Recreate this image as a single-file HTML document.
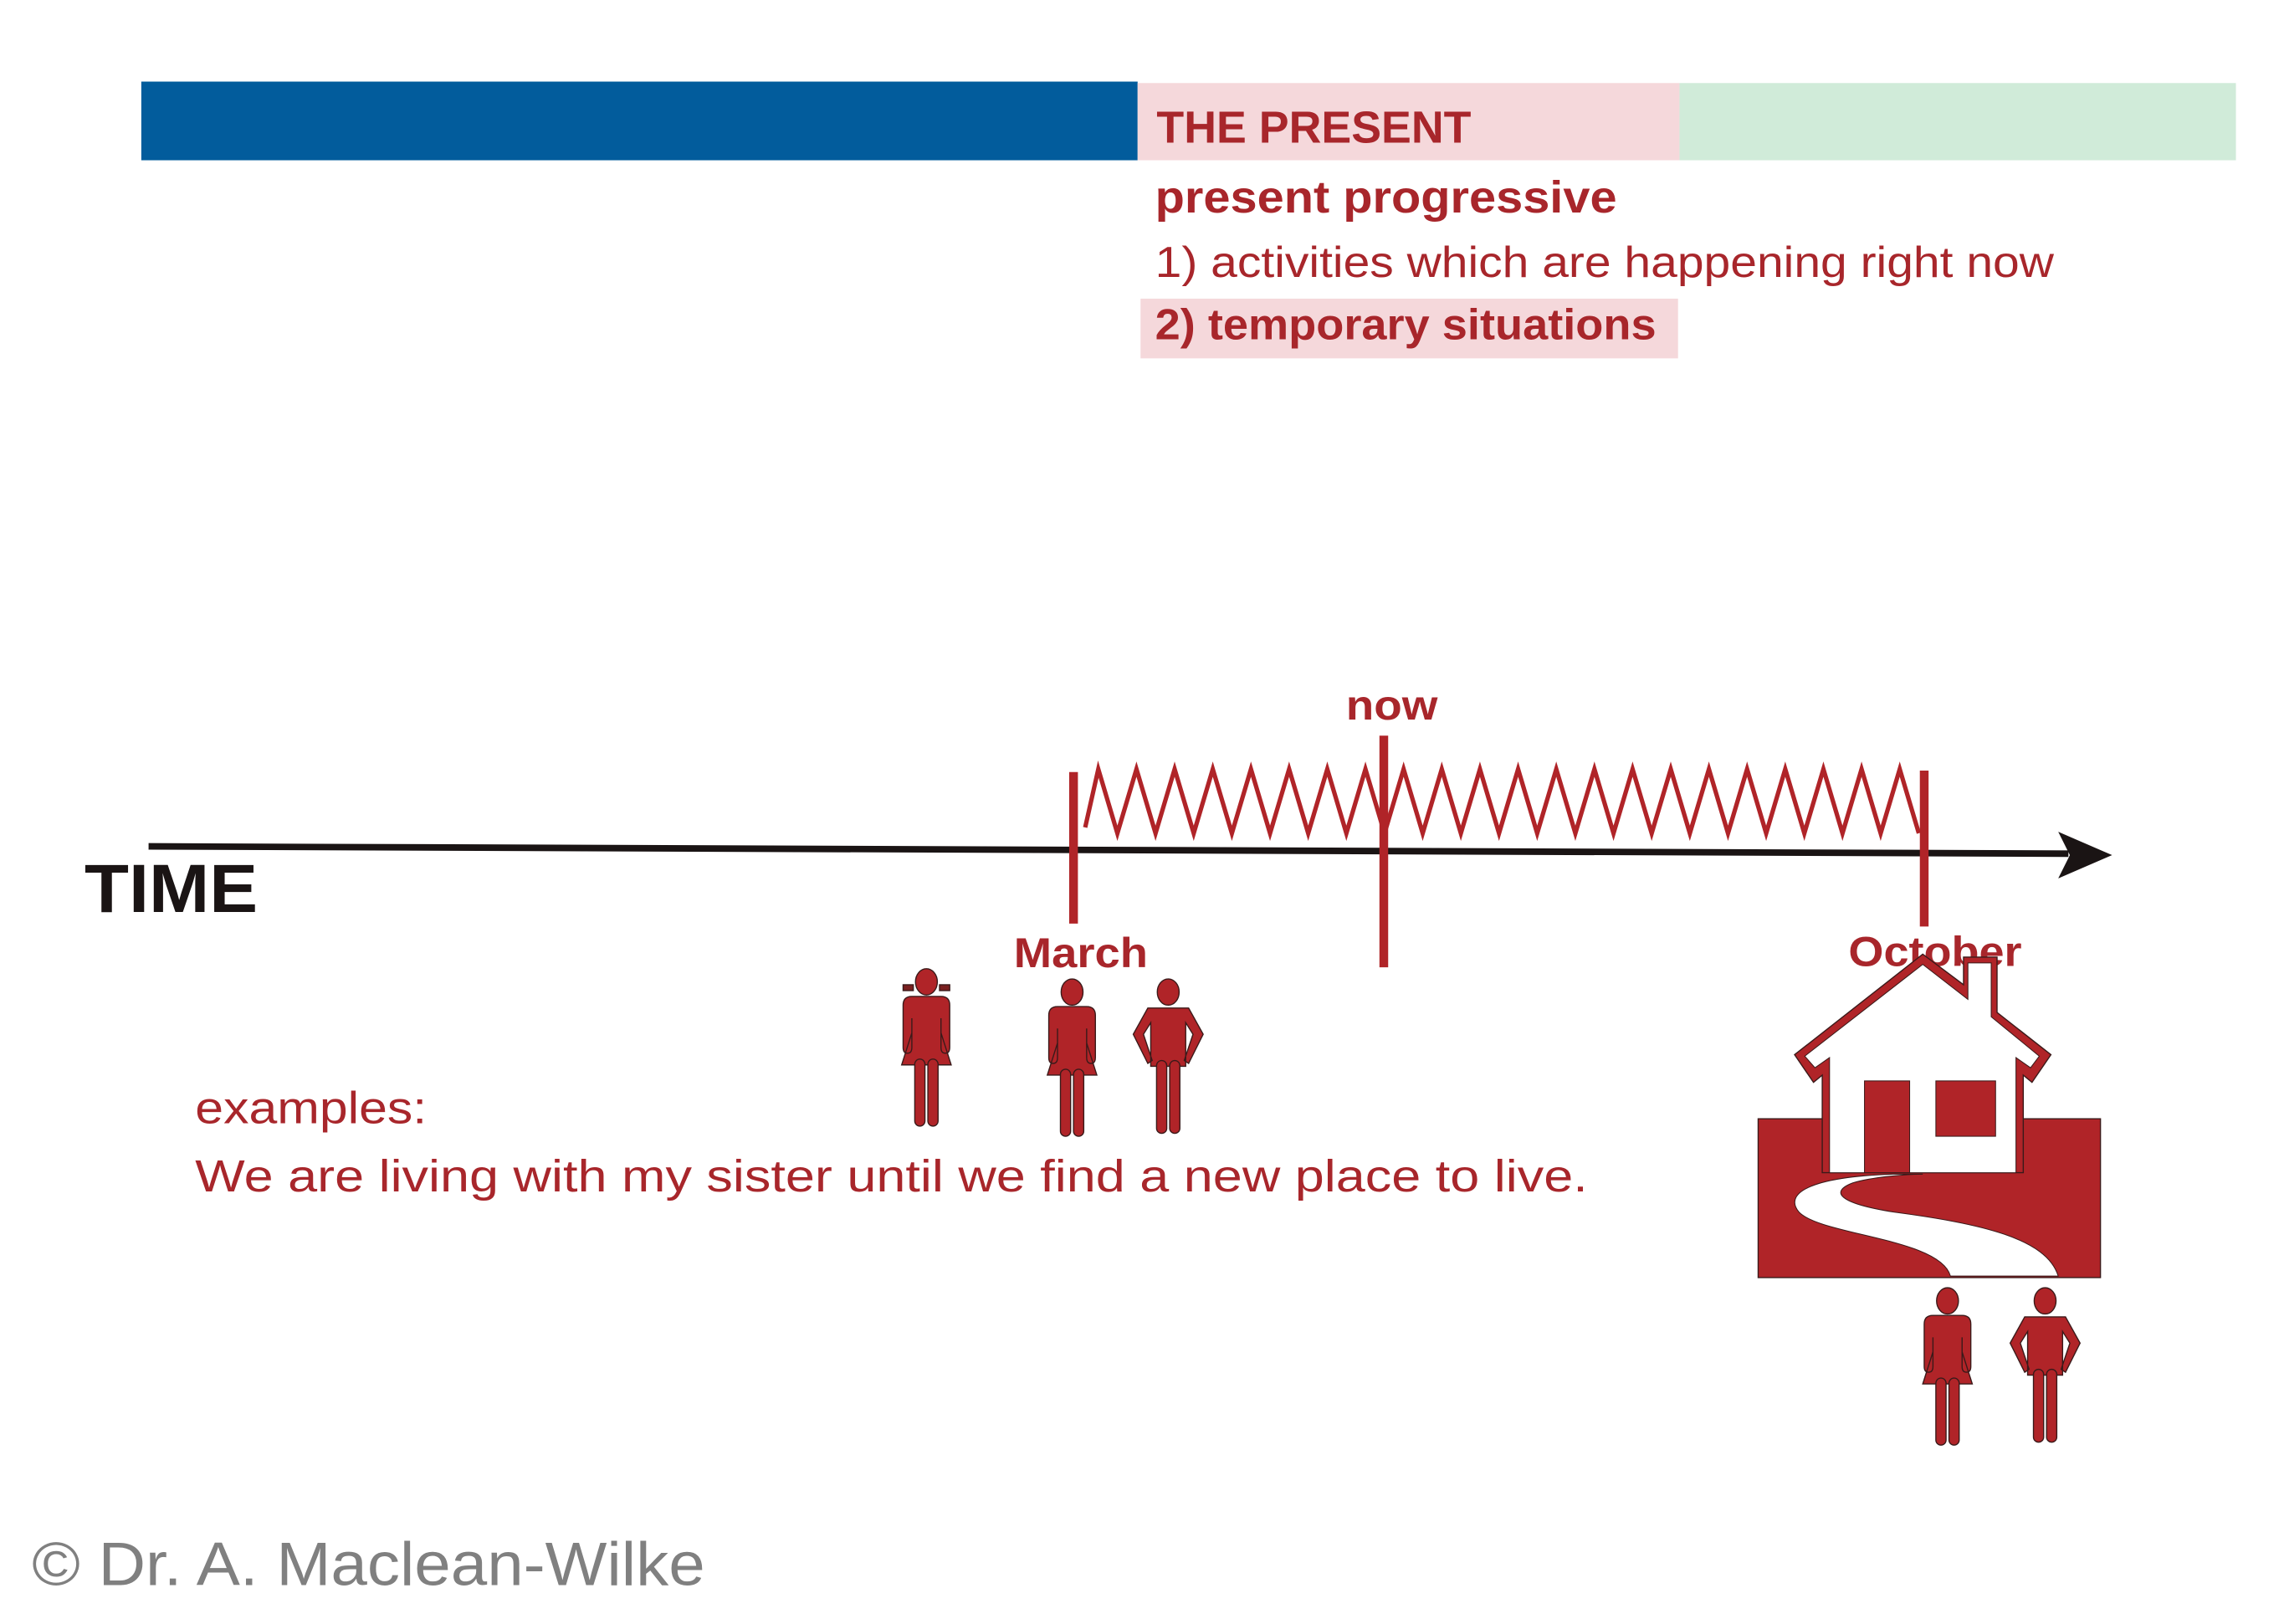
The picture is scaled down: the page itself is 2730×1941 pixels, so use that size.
<!DOCTYPE html>
<html><head><meta charset="utf-8"><style>
html,body{margin:0;padding:0;background:#fff;}
svg{display:block;}
text{font-family:"Liberation Sans",sans-serif;}
</style></head><body>
<svg width="2730" height="1941" viewBox="0 0 1568 1114.8" xmlns="http://www.w3.org/2000/svg">
<defs>
<g id="woman">
  <ellipse cx="0" cy="9" rx="7.5" ry="9" />
  <path d="M-10,19 L10,19 Q16,19 16,25 L16,54 Q16,58 13,58 Q10,58 10,54 L10,34 L10,44 L17,66 L-17,66 L-10,44 L-10,34 L-10,54 Q-10,58 -13,58 Q-16,58 -16,54 L-16,25 Q-16,19 -10,19 Z"/>
  <rect x="-8" y="62" width="7" height="46" rx="3.5"/>
  <rect x="1" y="62" width="7" height="46" rx="3.5"/>
</g>
<g id="man">
  <ellipse cx="0" cy="9" rx="7.5" ry="9" />
  <path d="M-14,20 L14,20 L24,38 L14,58 L11,56 L17,38 L12,30 L12,60 L-12,60 L-12,30 L-17,38 L-11,56 L-14,58 L-24,38 Z"/>
  <rect x="-8" y="56" width="7" height="50" rx="3.5"/>
  <rect x="1" y="56" width="7" height="50" rx="3.5"/>
</g>
</defs>

<rect x="97" y="56" width="684" height="54" fill="#025c9c"/>
<rect x="781" y="57" width="372" height="53" fill="#f5d8db"/>
<rect x="1153" y="57" width="382" height="53" fill="#d0ebd9"/>
<text x="794" y="98" font-size="31" font-weight="bold" fill="#a8262b" textLength="216" lengthAdjust="spacingAndGlyphs">THE PRESENT</text>
<text x="793" y="146" font-size="31" font-weight="bold" fill="#a8262b" textLength="317" lengthAdjust="spacingAndGlyphs">present progressive</text>
<text x="793" y="190" font-size="30" fill="#a8262b" textLength="617" lengthAdjust="spacingAndGlyphs">1) activities which are happening right now</text>
<rect x="783" y="205" width="369" height="41" fill="#f5d8db"/>
<text x="793" y="233" font-size="30" font-weight="bold" fill="#a8262b" textLength="344" lengthAdjust="spacingAndGlyphs">2) temporary situations</text>

<line x1="102" y1="581" x2="1420" y2="586" stroke="#1a1414" stroke-width="4.5"/>
<polygon points="1450,587 1413,571 1421,587 1413,603" fill="#1a1414"/>
<text x="58" y="626" font-size="47" font-weight="bold" fill="#1a1414" textLength="119" lengthAdjust="spacingAndGlyphs">TIME</text>

<polyline fill="none" stroke="#b02428" stroke-width="3" stroke-linejoin="miter" points="745,568 754,528 767.1,572 780.2,528 793.3,572 806.4,528 819.5,572 832.6,528 845.7,572 858.8,528 871.9,572 885,528 898.1,572 911.2,528 924.3,572 937.4,528 950.5,572 963.6,528 976.7,572 989.8,528 1002.9,572 1016,528 1029.1,572 1042.2,528 1055.3,572 1068.4,528 1081.5,572 1094.6,528 1107.7,572 1120.8,528 1133.9,572 1147,528 1160.1,572 1173.2,528 1186.3,572 1199.4,528 1212.5,572 1225.6,528 1238.7,572 1251.8,528 1264.9,572 1278,528 1291.1,572 1304.2,528 1317.3,572"/>
<line x1="737" y1="530" x2="737" y2="634" stroke="#b02428" stroke-width="6"/>
<line x1="950" y1="505" x2="950" y2="664" stroke="#b02428" stroke-width="6"/>
<line x1="1321" y1="529" x2="1321" y2="636" stroke="#b02428" stroke-width="6"/>

<text x="924" y="494" font-size="29" font-weight="bold" fill="#a8262b" textLength="63" lengthAdjust="spacingAndGlyphs">now</text>
<text x="696" y="664" font-size="29" font-weight="bold" fill="#a8262b" textLength="92" lengthAdjust="spacingAndGlyphs">March</text>
<text x="1269" y="663" font-size="29" font-weight="bold" fill="#a8262b" textLength="119" lengthAdjust="spacingAndGlyphs">October</text>

<g fill="#b02428" stroke="#3a1a1a" stroke-width="0.8">
  <g transform="translate(636,665)"><use href="#woman"/>
    <rect x="-16" y="11" width="7" height="4" fill="#7a2020"/><rect x="9" y="11" width="7" height="4" fill="#7a2020"/></g>
  <use href="#woman" transform="translate(736,672)"/>
  <use href="#man" transform="translate(802,672)"/>
  <use href="#woman" transform="translate(1337,884)"/>
  <use href="#man" transform="translate(1404,884)"/>
</g>

<rect x="1207" y="768" width="235" height="109" fill="#b02428" stroke="#3a1a1a" stroke-width="0.8"/>
<polygon points="1320,655 1348,676 1348,657 1371,657 1371,695 1408,724 1395,743 1389,738 1389,805 1251,805 1251,738 1245,743 1232,724" fill="#b02428" stroke="#3a1a1a" stroke-width="0.8"/>
<polygon points="1320,662 1351,686 1351,661 1367,661 1367,698 1400,725 1394,733 1384,726 1384,805 1256,805 1256,726 1246,733 1239,725" fill="#fff" stroke="#3a1a1a" stroke-width="0.6"/>
<rect x="1280" y="742" width="31" height="63" fill="#b02428" stroke="#3a1a1a" stroke-width="0.6"/>
<rect x="1329" y="742" width="41" height="38" fill="#b02428" stroke="#3a1a1a" stroke-width="0.6"/>
<path d="M1300,806 C1240,808 1225,820 1235,832 C1250,848 1332,850 1339,876 L1413,876 C1405,850 1360,840 1300,832 C1262,826 1256,818 1272,812 C1285,808 1310,806 1320,806 Z" fill="#fff" stroke="#3a1a1a" stroke-width="0.6"/>

<text x="134" y="771" font-size="31" fill="#a8262b" textLength="159" lengthAdjust="spacingAndGlyphs">examples:</text>
<text x="134" y="818" font-size="31" fill="#a8262b" textLength="956" lengthAdjust="spacingAndGlyphs">We are living with my sister until we find a new place to live.</text>

<text x="22" y="1088" font-size="42" fill="#808080" textLength="462" lengthAdjust="spacingAndGlyphs">© Dr. A. Maclean-Wilke</text>
</svg>
</body></html>
